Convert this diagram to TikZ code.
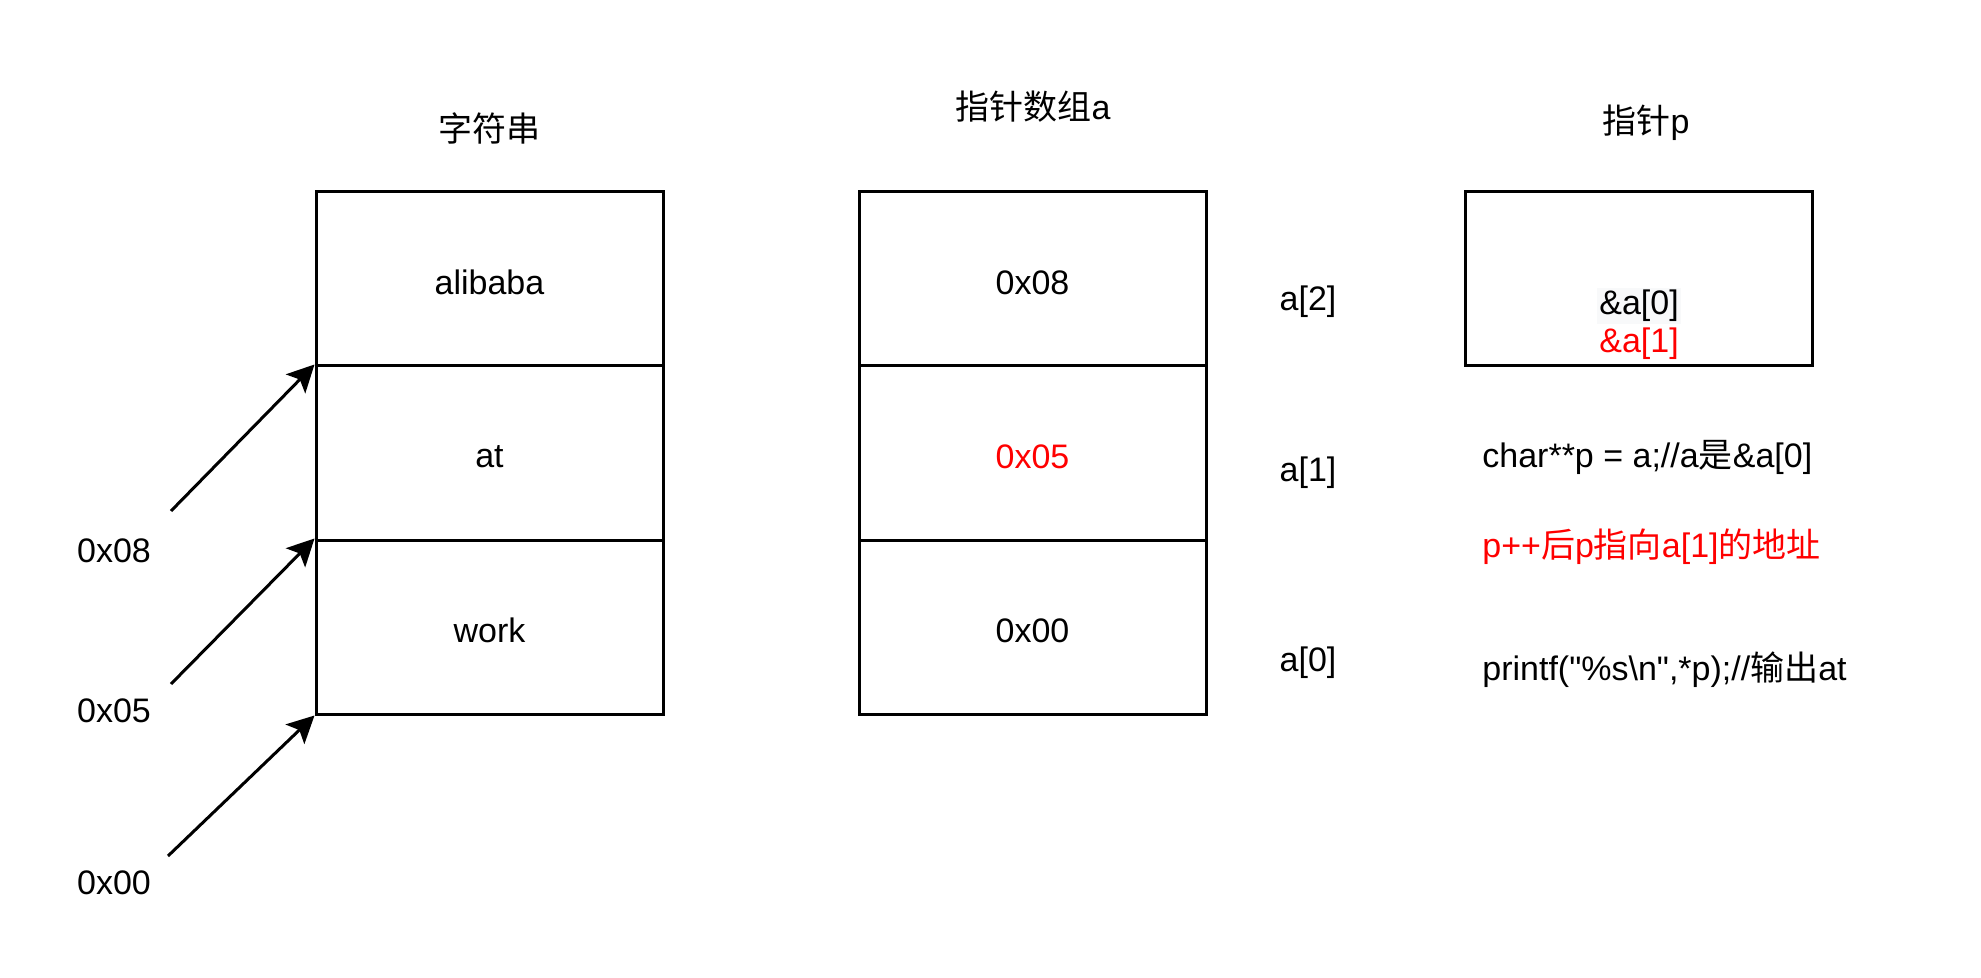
\documentclass[tikz,border=0pt]{standalone}
\usepackage{fontspec}
\setmainfont{Liberation Sans}
\newfontfamily\rawfont{Liberation Sans}
\newfontfamily\cjk{Noto Sans CJK SC}
\usetikzlibrary{arrows.meta}
\definecolor{txtred}{RGB}{255,0,0}
\definecolor{hl}{RGB}{248,249,250}
\begin{document}
\begin{tikzpicture}[x=0.5pt,y=-0.5pt,
  every node/.style={font=\rawfont\fontsize{17pt}{20pt}\selectfont, inner sep=0pt},
  cell/.style={draw, line width=1.5pt, minimum width=173.5pt, minimum height=87pt},
  celltext/.style={label={[yshift=-1.8pt]center:#1}},
  redcelltext/.style={label={[yshift=-1.8pt,text=txtred]center:#1}},
  ptr/.style={-{Stealth[length=13.5pt,width=13.5pt,inset=3pt]}, line width=1.5pt}]
\useasboundingbox (0,0) rectangle (1981,978);
\fill[white] (0,0) rectangle (1981,978);
% titles
\node (t1) at (489,128) {\cjk 字符串};
\node (t2) at (1033,107) {{\cjk 指针数组}a};
\node (t3) at (1646,123) {{\cjk 指针}p};
% string cells
\node[cell, celltext=alibaba] (s2) at (489.5,279) {};
\node[cell, celltext=at] (s1) at (489.5,453) {};
\node[cell, celltext=work] (s0) at (489.5,627) {};
% pointer array cells
\node[cell, celltext=0x08] (a2) at (1032.5,279) {};
\node[cell, redcelltext=0x05] (a1) at (1032.5,453) {};
\node[cell, celltext=0x00] (a0) at (1032.5,627) {};
% index labels
\node (i2) at (1308,302) {a[2]};
\node (i1) at (1308,473) {a[1]};
\node (i0) at (1308,663) {a[0]};
% pointer p box
\node[cell] (pb) at (1638.5,279) {};
\node[fill=hl, inner sep=1pt] (p0) at (1639,306) {\&a[0]};
\node[text=txtred] (p1) at (1639,344) {\&a[1]};
% code lines
\node[anchor=west] (c1) at (1482,457) {char**p = a;//a{\cjk 是}\&a[0]};
\node[anchor=west, text=txtred] (c2) at (1482,547) {p++{\cjk 后}p{\cjk 指向}a[1]{\cjk 的地址}};
\node[anchor=west] (c3) at (1482,670) {printf("\%s\textbackslash n",*p);//{\cjk 输出}at};
% address labels
\node (l8) at (114,551) {0x08};
\node (l5) at (114,711) {0x05};
\node (l0) at (114,883) {0x00};
% arrows
\coordinate (f8) at (171,511);
\coordinate (f5) at (171,684);
\coordinate (f0) at (168,856);
\draw[ptr] (f8) -- (s1.north west);
\draw[ptr] (f5) -- (s0.north west);
\draw[ptr] (f0) -- (s0.south west);
\end{tikzpicture}
\end{document}
